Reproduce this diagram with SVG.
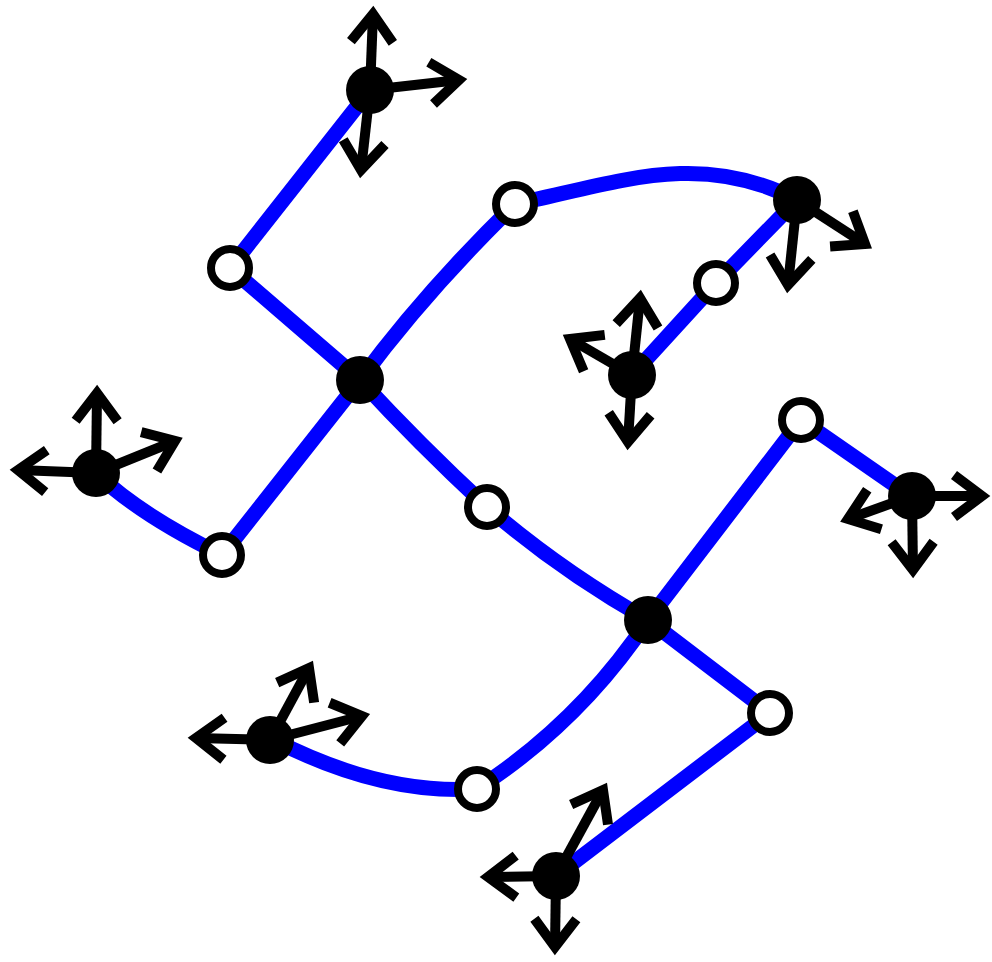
<svg xmlns="http://www.w3.org/2000/svg" width="992" height="962" viewBox="0 0 992 962">
<style>
.edge{fill:none;stroke:#0000ff;stroke-width:15;stroke-linecap:round}
.arr{fill:none;stroke:#000;stroke-width:10;marker-end:url(#chev)}
.bn{fill:#000}
.wn{fill:#fff;stroke:#000;stroke-width:8}
</style>
<defs>
<marker id="chev" viewBox="-5 -5 6 10" markerWidth="6" markerHeight="10" refX="0" refY="0" orient="auto" markerUnits="strokeWidth" overflow="visible">
<path d="M-2.8,-2.1 L0,0 L-2.8,2.1" fill="none" stroke="#000" stroke-width="1" stroke-linejoin="miter"/>
</marker>
</defs>
<rect width="992" height="962" fill="#fff"/>
<g id="connectors">
<path class="edge" d="M370,90 L230,268"/>
<path class="edge" d="M230,268 L360,380"/>
<path class="edge" d="M360,380 Q425,292 515,204"/>
<path class="edge" d="M515,204 C620,182 700,150 797,200"/>
<path class="edge" d="M797,200 L716,283 L632,375"/>
<path class="edge" d="M96,473 Q140,515 222,555"/>
<path class="edge" d="M222,555 L360,380"/>
<path class="edge" d="M360,380 Q420,445 487,507"/>
<path class="edge" d="M487,507 Q560,570 648,620"/>
<path class="edge" d="M648,620 L801,420 L912,497"/>
<path class="edge" d="M648,620 L770,713 L556,876"/>
<path class="edge" d="M648,620 Q580,722 477,789"/>
<path class="edge" d="M477,789 Q380,795 272,739"/>
</g>
<g id="arrows">
<path class="arr" d="M370,90 L373,14"/>
<path class="arr" d="M370,90 L459,80"/>
<path class="arr" d="M370,90 L361,170"/>
<path class="arr" d="M797,200 L865,244"/>
<path class="arr" d="M797,200 L788,285"/>
<path class="arr" d="M632,375 L640,298"/>
<path class="arr" d="M632,375 L570,339"/>
<path class="arr" d="M632,375 L628,442"/>
<path class="arr" d="M96,473 L97,393"/>
<path class="arr" d="M96,473 L18,470"/>
<path class="arr" d="M96,473 L175,441"/>
<path class="arr" d="M912,496 L982,496"/>
<path class="arr" d="M912,496 L913,570"/>
<path class="arr" d="M912,496 L848,519"/>
<path class="arr" d="M270,740 L196,738"/>
<path class="arr" d="M270,740 L309,668"/>
<path class="arr" d="M270,740 L362,716"/>
<path class="arr" d="M556,876 L488,877"/>
<path class="arr" d="M556,876 L555,947"/>
<path class="arr" d="M556,876 L603,790"/>
</g>
<g id="n1"><circle class="bn" cx="370" cy="90" r="24"/></g>
<g id="n2"><circle class="bn" cx="797" cy="200" r="24"/></g>
<g id="n3"><circle class="bn" cx="632" cy="375" r="24"/></g>
<g id="n4"><circle class="bn" cx="360" cy="380" r="24"/></g>
<g id="n5"><circle class="bn" cx="96" cy="473" r="24"/></g>
<g id="n6"><circle class="bn" cx="912" cy="496" r="24"/></g>
<g id="n7"><circle class="bn" cx="648" cy="620" r="24"/></g>
<g id="n8"><circle class="bn" cx="270" cy="740" r="24"/></g>
<g id="n9"><circle class="bn" cx="556" cy="876" r="24"/></g>
<g id="w1"><circle class="wn" cx="230" cy="268" r="19"/></g>
<g id="w2"><circle class="wn" cx="515" cy="204" r="19"/></g>
<g id="w3"><circle class="wn" cx="716" cy="283" r="19"/></g>
<g id="w4"><circle class="wn" cx="801" cy="420" r="19"/></g>
<g id="w5"><circle class="wn" cx="222" cy="555" r="19"/></g>
<g id="w6"><circle class="wn" cx="487" cy="507" r="19"/></g>
<g id="w7"><circle class="wn" cx="770" cy="713" r="19"/></g>
<g id="w8"><circle class="wn" cx="477" cy="789" r="19"/></g>
</svg>
